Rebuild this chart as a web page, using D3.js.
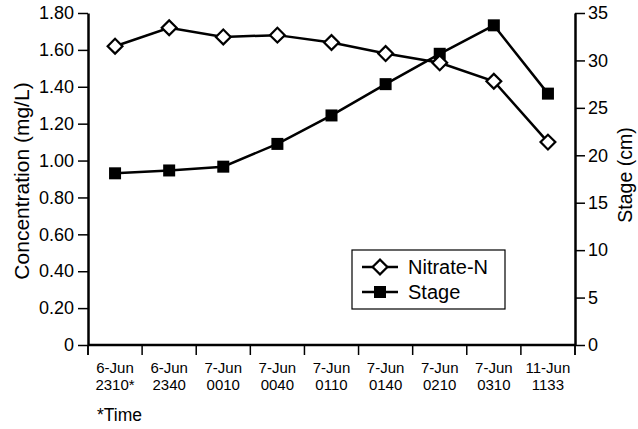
<!DOCTYPE html>
<html>
<head>
<meta charset="utf-8">
<script src="https://cdn.jsdelivr.net/npm/d3@7"></script>
<style>
  body { margin: 0; background: #fff; }
  svg text { font-family: "Liberation Sans", Arial, sans-serif; fill: #000; }
</style>
</head>
<body>
<div id="chart"></div>
<script>
const dates = ["6-Jun", "6-Jun", "7-Jun", "7-Jun", "7-Jun", "7-Jun", "7-Jun", "7-Jun", "11-Jun"];
const times = ["2310*", "2340", "0010", "0040", "0110", "0140", "0210", "0310", "1133"];
const nitrate = [1.62, 1.72, 1.67, 1.68, 1.64, 1.58, 1.53, 1.43, 1.10];
const stage = [18.1, 18.4, 18.8, 21.2, 24.2, 27.5, 30.7, 33.7, 26.5];
const leftTicks = [0, 0.2, 0.4, 0.6, 0.8, 1.0, 1.2, 1.4, 1.6, 1.8];
const rightTicks = [0, 5, 10, 15, 20, 25, 30, 35];

const width = 638, height = 429;
const margin = {top: 13, right: 63, bottom: 84, left: 88};
const plotW = width - margin.left - margin.right;
const plotH = height - margin.top - margin.bottom;

const svg = d3.select("#chart").append("svg")
    .attr("width", width)
    .attr("height", height);

const g = svg.append("g")
    .attr("transform", `translate(${margin.left},${margin.top})`);

const x = d3.scaleBand()
    .domain(d3.range(times.length))
    .range([0, plotW]);

const yLeft = d3.scaleLinear().domain([0, 1.8]).range([plotH, 0]);
const yRight = d3.scaleLinear().domain([0, 35]).range([plotH, 0]);

// left axis
const leftAxis = g.append("g")
    .call(d3.axisLeft(yLeft).tickValues(leftTicks)
      .tickFormat(d => d === 0 ? "0" : d3.format(".2f")(d))
      .tickSize(10).tickPadding(4).tickSizeOuter(0));

// right axis
const rightAxis = g.append("g")
    .attr("transform", `translate(${plotW},0)`)
    .call(d3.axisRight(yRight).tickValues(rightTicks)
      .tickSize(10).tickPadding(3).tickSizeOuter(0));

// bottom axis: ticks sit between the categories
const bottom = g.append("g")
    .attr("transform", `translate(0,${plotH})`);
bottom.append("line")
    .attr("x1", 0).attr("x2", plotW)
    .attr("stroke", "#000").attr("stroke-width", 2.5);
const edges = d3.range(times.length + 1).map(i => i === times.length ? plotW : x(i));
bottom.selectAll(".xt").data(edges).enter().append("line")
    .attr("x1", d => d).attr("x2", d => d)
    .attr("y1", 0).attr("y2", 10)
    .attr("stroke", "#000").attr("stroke-width", 1.5);

const lbl = bottom.selectAll(".xl").data(times).enter().append("text")
    .attr("text-anchor", "middle")
    .attr("font-size", 15);
lbl.append("tspan")
    .attr("x", (d, i) => x(i) + x.bandwidth() / 2)
    .attr("y", 28)
    .text((d, i) => dates[i]);
lbl.append("tspan")
    .attr("x", (d, i) => x(i) + x.bandwidth() / 2)
    .attr("y", 45)
    .text(d => d);

svg.append("text")
    .attr("x", 97).attr("y", 421)
    .attr("font-size", 17.5)
    .text("*Time");

[leftAxis, rightAxis].forEach(ax => {
  ax.select(".domain").attr("stroke-width", 2.5);
  ax.selectAll(".tick line").attr("stroke-width", 1.5);
  ax.selectAll(".tick text").attr("font-size", 18)
    .style("font-family", "'Liberation Sans', Arial, sans-serif");
});
// axes extend down to the tick length below 0
leftAxis.append("line").attr("x1", 0).attr("x2", 0).attr("y1", plotH).attr("y2", plotH + 10)
    .attr("stroke", "#000").attr("stroke-width", 1.5);
rightAxis.append("line").attr("x1", 0).attr("x2", 0).attr("y1", plotH).attr("y2", plotH + 10)
    .attr("stroke", "#000").attr("stroke-width", 1.5);

// axis titles
svg.append("text")
    .attr("transform", `translate(29,181) rotate(-90)`)
    .attr("text-anchor", "middle")
    .attr("font-size", 21)
    .text("Concentration (mg/L)");
svg.append("text")
    .attr("transform", `translate(632,175) rotate(-90)`)
    .attr("text-anchor", "middle")
    .attr("font-size", 19.5)
    .text("Stage (cm)");

const cx = i => x(i) + x.bandwidth() / 2;

// stage line + squares
g.append("path")
    .datum(stage)
    .attr("fill", "none").attr("stroke", "#000").attr("stroke-width", 2.5)
    .attr("d", d3.line().x((d, i) => cx(i)).y(d => yRight(d)));
g.selectAll(".sq").data(stage).enter().append("rect")
    .attr("x", (d, i) => cx(i) - 6).attr("y", d => yRight(d) - 6)
    .attr("width", 12).attr("height", 12)
    .attr("fill", "#000");

// nitrate line + diamonds
const diamond = d3.symbol().type(d3.symbolSquare).size(110);
g.append("path")
    .datum(nitrate)
    .attr("fill", "none").attr("stroke", "#000").attr("stroke-width", 2.5)
    .attr("d", d3.line().x((d, i) => cx(i)).y(d => yLeft(d)));
g.selectAll(".dm").data(nitrate).enter().append("path")
    .attr("d", diamond)
    .attr("transform", (d, i) => `translate(${cx(i)},${yLeft(d)}) rotate(45)`)
    .attr("fill", "#fff").attr("stroke", "#000").attr("stroke-width", 2.2);

// legend
const leg = svg.append("g").attr("transform", "translate(352,250)");
leg.append("rect")
    .attr("width", 153).attr("height", 59)
    .attr("fill", "#fff").attr("stroke", "#000").attr("stroke-width", 1.2);
const items = [{name: "Nitrate-N", y: 17}, {name: "Stage", y: 42}];
items.forEach((it, k) => {
  leg.append("line").attr("x1", 10).attr("x2", 46).attr("y1", it.y).attr("y2", it.y)
      .attr("stroke", "#000").attr("stroke-width", 2.5);
  if (k === 0) {
    leg.append("path").attr("d", diamond)
        .attr("transform", `translate(28,${it.y}) rotate(45)`)
        .attr("fill", "#fff").attr("stroke", "#000").attr("stroke-width", 2.2);
  } else {
    leg.append("rect").attr("x", 22).attr("y", it.y - 6)
        .attr("width", 12).attr("height", 12).attr("fill", "#000");
  }
  leg.append("text").attr("x", 56).attr("y", it.y + 7)
      .attr("font-size", 20).text(it.name);
});
</script>
</body>
</html>
